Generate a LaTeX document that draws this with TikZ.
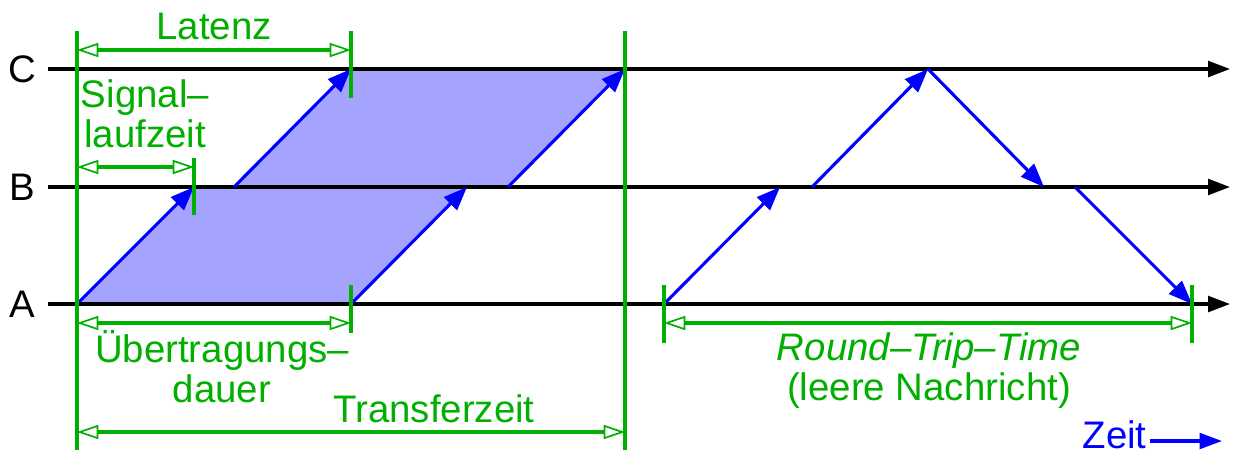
\documentclass[tikz,border=0pt]{standalone}
\usepackage{fontspec}
\setmainfont{Liberation Sans}
\usetikzlibrary{arrows.meta,positioning}
\definecolor{netgreen}{RGB}{0,175,0}
\definecolor{netblue}{RGB}{0,0,255}
\definecolor{netfill}{RGB}{164,164,255}

\begin{document}
\begin{tikzpicture}[
  x=0.0125cm, y=-0.0125cm,
  font=\fontsize{13.65}{14.2}\selectfont,
  axis/.style={draw=black, line width=1.1pt, -{Triangle[length=7.8pt,width=5.6pt]}},
  msg/.style={draw=netblue, line width=1.1pt, -{Triangle[length=8.4pt,width=6.4pt]}},
  msgfill/.style={fill=netfill, draw=none},
  bound/.style={draw=netgreen, line width=1.1pt},
  span/.style={draw=netgreen, line width=1.1pt, {Triangle[open,line width=0.6pt,length=7.6pt,width=5pt]}-{Triangle[open,line width=0.6pt,length=7.6pt,width=5pt]}},
  lbl/.style={text=netgreen, align=center, inner sep=0pt}
]
\useasboundingbox (0,0) rectangle (1237,453);

% Stations
\node[inner sep=0pt] (labC) at (22,69) {C};
\node[inner sep=0pt] (labB) at (22,187) {B};
\node[inner sep=0pt] (labA) at (22,304) {A};
\coordinate (c0) at (48,69);  \coordinate (c1) at (1230,69);
\coordinate (b0) at (48,187); \coordinate (b1) at (1230,187);
\coordinate (a0) at (48,304); \coordinate (a1) at (1230,304);

% Message points
\coordinate (sA) at (77,304);  \coordinate (sB) at (194,187);
\coordinate (fB) at (234,187); \coordinate (sC) at (351,69);
\coordinate (eA) at (351,304); \coordinate (eB) at (467,187);
\coordinate (gB) at (508,187); \coordinate (eC) at (625,69);

% Transfer
\fill[msgfill] (sA) -- (eA) -- (eB) -- (sB) -- cycle;
\fill[msgfill] (fB) -- (gB) -- (eC) -- (sC) -- cycle;
\draw[axis] (c0) -- (c1);
\draw[axis] (b0) -- (b1);
\draw[axis] (a0) -- (a1);
\draw[msg] (sA) -- (sB);
\draw[msg] (fB) -- (sC);
\draw[msg] (eA) -- (eB);
\draw[msg] (gB) -- (eC);

% Round trip
\coordinate (rA) at (664,304); \coordinate (rB) at (780,187);
\coordinate (uB) at (812,187); \coordinate (rC) at (928,69);
\coordinate (dB) at (1044,187); \coordinate (vB) at (1075,187);
\coordinate (rE) at (1192,304);
\draw[msg] (rA) -- (rB);
\draw[msg] (uB) -- (rC);
\draw[msg] (rC) -- (dB);
\draw[msg] (vB) -- (rE);

% Bounds
\coordinate (tL0) at (77,31);   \coordinate (tL1) at (77,450);
\coordinate (tR0) at (625,31);  \coordinate (tR1) at (625,450);
\coordinate (lat0) at (351,31); \coordinate (lat1) at (351,98);
\coordinate (sig0) at (194,158); \coordinate (sig1) at (194,215);
\coordinate (ue0) at (351,285); \coordinate (ue1) at (351,333);
\coordinate (rt0) at (664,285); \coordinate (rt1) at (664,343);
\coordinate (rt2) at (1192,285); \coordinate (rt3) at (1192,343);
\draw[bound] (tL0) -- (tL1);
\draw[bound] (tR0) -- (tR1);
\draw[bound] (lat0) -- (lat1);
\draw[bound] (sig0) -- (sig1);
\draw[bound] (ue0) -- (ue1);
\draw[bound] (rt0) -- (rt1);
\draw[bound] (rt2) -- (rt3);

% Spans
\draw[span] (77,50) -- (351,50);
\draw[span] (77,167) -- (194,167);
\draw[span] (77,323) -- (351,323);
\draw[span] (77,432) -- (625,432);
\draw[span] (664,323) -- (1192,323);

% Labels
\node[lbl, anchor=base] (latenz) at (214,39) {Latenz};
\node[lbl, anchor=base] (signal) at (145,147) {Signal–\\laufzeit};
\node[lbl, anchor=base] (uebert) at (222,402) {Übertragungs–\\dauer};
\node[lbl, anchor=base] (transfer) at (434,422) {Transferzeit};
\node[lbl, anchor=base] (rtt) at (929,400) {\itshape Round–Trip–Time\\\upshape(leere Nachricht)};

% Time
\node[inner sep=0pt, anchor=base west, text=netblue] (zeit) at (1082,448) {Zeit};
\coordinate (zeitEnd) at (1222,441);
\draw[netblue, line width=1.1pt, -{Triangle[length=8pt,width=5.6pt]}] (zeit.east |- zeitEnd) ++(3,0) -- (zeitEnd);

\end{tikzpicture}
\end{document}
